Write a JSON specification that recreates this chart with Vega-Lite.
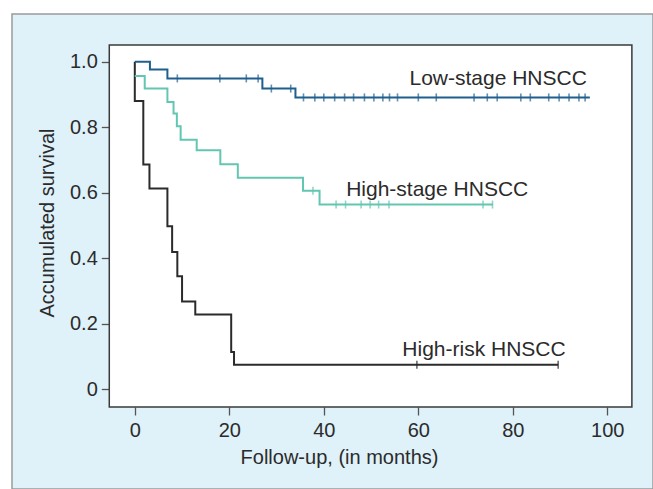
{
  "$schema": "https://vega.github.io/schema/vega-lite/v6.json",
  "width": 641,
  "height": 475,
  "autosize": {"type": "none"},
  "padding": {"left": 12, "top": 14, "right": 0, "bottom": 0},
  "background": "#ffffff",
  "config": {
    "view": {"fill": "#dff1f9", "stroke": "#9a9a9a", "strokeWidth": 1.5},
    "font": "Liberation Sans",
    "axis": {"grid": false, "domain": false}
  },
  "datasets": {
    "curves": [
      {"group": "High-risk HNSCC", "month": 0, "surv": 1.0},
      {"group": "High-risk HNSCC", "month": 0, "surv": 0.88},
      {"group": "High-risk HNSCC", "month": 1.8, "surv": 0.686},
      {"group": "High-risk HNSCC", "month": 3.1, "surv": 0.613},
      {"group": "High-risk HNSCC", "month": 6.9, "surv": 0.498},
      {"group": "High-risk HNSCC", "month": 7.9, "surv": 0.419},
      {"group": "High-risk HNSCC", "month": 9.0, "surv": 0.345},
      {"group": "High-risk HNSCC", "month": 10.0, "surv": 0.268},
      {"group": "High-risk HNSCC", "month": 12.8, "surv": 0.228},
      {"group": "High-risk HNSCC", "month": 20.4, "surv": 0.114},
      {"group": "High-risk HNSCC", "month": 21.0, "surv": 0.075},
      {"group": "High-risk HNSCC", "month": 89.6, "surv": 0.075},
      {"group": "High-stage HNSCC", "month": 0, "surv": 0.956},
      {"group": "High-stage HNSCC", "month": 2.1, "surv": 0.918},
      {"group": "High-stage HNSCC", "month": 6.9, "surv": 0.877},
      {"group": "High-stage HNSCC", "month": 8.2, "surv": 0.842},
      {"group": "High-stage HNSCC", "month": 8.9, "surv": 0.803},
      {"group": "High-stage HNSCC", "month": 9.7, "surv": 0.762},
      {"group": "High-stage HNSCC", "month": 13.1, "surv": 0.73},
      {"group": "High-stage HNSCC", "month": 18.1, "surv": 0.687},
      {"group": "High-stage HNSCC", "month": 21.8, "surv": 0.646},
      {"group": "High-stage HNSCC", "month": 35.6, "surv": 0.606},
      {"group": "High-stage HNSCC", "month": 39.1, "surv": 0.564},
      {"group": "High-stage HNSCC", "month": 75.8, "surv": 0.564},
      {"group": "Low-stage HNSCC", "month": 0, "surv": 1.0},
      {"group": "Low-stage HNSCC", "month": 3.2, "surv": 0.976},
      {"group": "Low-stage HNSCC", "month": 6.9, "surv": 0.949},
      {"group": "Low-stage HNSCC", "month": 27.0, "surv": 0.918},
      {"group": "Low-stage HNSCC", "month": 34.0, "surv": 0.891},
      {"group": "Low-stage HNSCC", "month": 96.3, "surv": 0.891}
    ],
    "censored": [
      {"group": "High-risk HNSCC", "month": 59.7, "surv": 0.075},
      {"group": "High-risk HNSCC", "month": 89.6, "surv": 0.075},
      {"group": "High-stage HNSCC", "month": 37.7, "surv": 0.606},
      {"group": "High-stage HNSCC", "month": 42.6, "surv": 0.564},
      {"group": "High-stage HNSCC", "month": 44.6, "surv": 0.564},
      {"group": "High-stage HNSCC", "month": 47.9, "surv": 0.564},
      {"group": "High-stage HNSCC", "month": 49.8, "surv": 0.564},
      {"group": "High-stage HNSCC", "month": 51.6, "surv": 0.564},
      {"group": "High-stage HNSCC", "month": 53.8, "surv": 0.564},
      {"group": "High-stage HNSCC", "month": 73.7, "surv": 0.564},
      {"group": "High-stage HNSCC", "month": 75.7, "surv": 0.564},
      {"group": "Low-stage HNSCC", "month": 9.0, "surv": 0.949},
      {"group": "Low-stage HNSCC", "month": 18.0, "surv": 0.949},
      {"group": "Low-stage HNSCC", "month": 23.6, "surv": 0.949},
      {"group": "Low-stage HNSCC", "month": 26.1, "surv": 0.949},
      {"group": "Low-stage HNSCC", "month": 28.9, "surv": 0.918},
      {"group": "Low-stage HNSCC", "month": 33.0, "surv": 0.918},
      {"group": "Low-stage HNSCC", "month": 35.7, "surv": 0.891},
      {"group": "Low-stage HNSCC", "month": 38.1, "surv": 0.891},
      {"group": "Low-stage HNSCC", "month": 40.0, "surv": 0.891},
      {"group": "Low-stage HNSCC", "month": 42.3, "surv": 0.891},
      {"group": "Low-stage HNSCC", "month": 44.4, "surv": 0.891},
      {"group": "Low-stage HNSCC", "month": 46.3, "surv": 0.891},
      {"group": "Low-stage HNSCC", "month": 48.6, "surv": 0.891},
      {"group": "Low-stage HNSCC", "month": 50.6, "surv": 0.891},
      {"group": "Low-stage HNSCC", "month": 52.5, "surv": 0.891},
      {"group": "Low-stage HNSCC", "month": 53.9, "surv": 0.891},
      {"group": "Low-stage HNSCC", "month": 55.6, "surv": 0.891},
      {"group": "Low-stage HNSCC", "month": 60.0, "surv": 0.891},
      {"group": "Low-stage HNSCC", "month": 63.8, "surv": 0.891},
      {"group": "Low-stage HNSCC", "month": 71.8, "surv": 0.891},
      {"group": "Low-stage HNSCC", "month": 74.6, "surv": 0.891},
      {"group": "Low-stage HNSCC", "month": 76.7, "surv": 0.891},
      {"group": "Low-stage HNSCC", "month": 81.7, "surv": 0.891},
      {"group": "Low-stage HNSCC", "month": 83.7, "surv": 0.891},
      {"group": "Low-stage HNSCC", "month": 87.6, "surv": 0.891},
      {"group": "Low-stage HNSCC", "month": 89.8, "surv": 0.891},
      {"group": "Low-stage HNSCC", "month": 91.9, "surv": 0.891},
      {"group": "Low-stage HNSCC", "month": 94.0, "surv": 0.891},
      {"group": "Low-stage HNSCC", "month": 95.3, "surv": 0.891}
    ],
    "labels": [
      {"group": "Low-stage HNSCC", "month": 76.9, "surv": 0.929},
      {"group": "High-stage HNSCC", "month": 64.0, "surv": 0.591},
      {"group": "High-risk HNSCC", "month": 73.9, "surv": 0.102}
    ]
  },
  "layer": [
    {
      "data": {"values": [{}]},
      "mark": {"type": "rect", "fill": "#ffffff", "stroke": "#3a3a3a", "strokeWidth": 1.5},
      "encoding": {
        "x": {"datum": -5.4, "type": "quantitative",
          "scale": {"domain": [-25.99, 109.67], "nice": false, "zero": false},
          "axis": {
            "values": [0, 20, 40, 60, 80, 100],
            "offset": -82,
            "tickSize": 8, "tickColor": "#555555", "tickWidth": 1.3,
            "labelFontSize": 20, "labelColor": "#2b2b2b", "labelPadding": 5,
            "title": "Follow-up, (in months)",
            "titleFontSize": 20, "titleFontWeight": "normal", "titleColor": "#2b2b2b",
            "titlePadding": 7, "titleX": 327
          }
        },
        "x2": {"datum": 105.2},
        "y": {"datum": -0.054, "type": "quantitative",
          "scale": {"domain": [-0.3043, 1.1456], "nice": false, "zero": false},
          "axis": {
            "values": [0, 0.2, 0.4, 0.6, 0.8, 1.0],
            "labelExpr": "datum.value == 0 ? '0' : format(datum.value, '.1f')",
            "offset": -97.3,
            "tickSize": 8, "tickColor": "#555555", "tickWidth": 1.3,
            "labelFontSize": 20, "labelColor": "#2b2b2b", "labelPadding": 4,
            "title": "Accumulated survival",
            "titleFontSize": 20, "titleFontWeight": "normal", "titleColor": "#2b2b2b",
            "titlePadding": 12, "titleY": 208.5
          }
        },
        "y2": {"datum": 1.051}
      }
    },
    {
      "data": {"name": "curves"},
      "mark": {"type": "line", "interpolate": "step-after", "strokeWidth": 2},
      "encoding": {
        "x": {"field": "month", "type": "quantitative"},
        "y": {"field": "surv", "type": "quantitative"},
        "color": {"field": "group", "type": "nominal",
          "scale": {"domain": ["High-risk HNSCC", "High-stage HNSCC", "Low-stage HNSCC"],
                    "range": ["#2b2b2b", "#62c6b1", "#1f5f8e"]},
          "legend": null},
        "order": {"value": null}
      }
    },
    {
      "data": {"name": "censored"},
      "mark": {"type": "tick", "orient": "vertical", "size": 8, "thickness": 1.6},
      "encoding": {
        "x": {"field": "month", "type": "quantitative"},
        "y": {"field": "surv", "type": "quantitative"},
        "color": {"field": "group", "type": "nominal", "legend": null}
      }
    },
    {
      "data": {"name": "labels"},
      "mark": {"type": "text", "fontSize": 21, "align": "center", "baseline": "alphabetic", "color": "#2b2b2b"},
      "encoding": {
        "x": {"field": "month", "type": "quantitative"},
        "y": {"field": "surv", "type": "quantitative"},
        "text": {"field": "group"}
      }
    }
  ]
}
